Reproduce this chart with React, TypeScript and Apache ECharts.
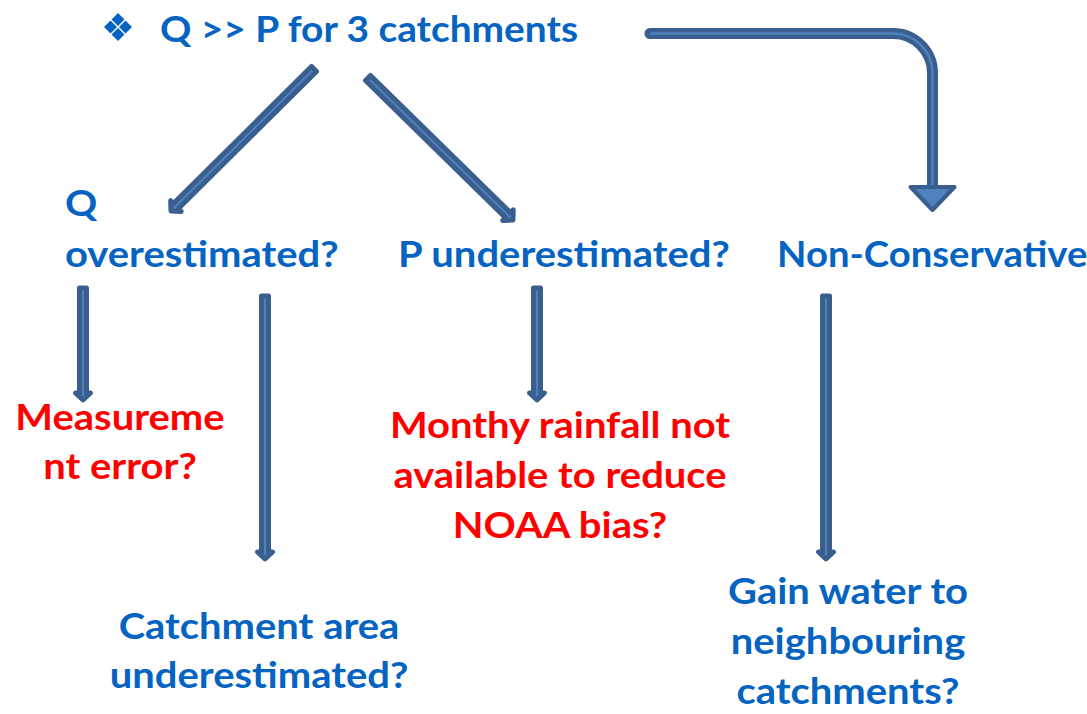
import React, { useEffect, useRef } from "react";
import * as echarts from "echarts";

// ---- content ----
const titleText = "Q >> P for 3 catchments";
const branchLeftLines = ["Q", "overestimated?"];
const branchMidLines = ["P underestimated?"];
const branchRightLines = ["Non-Conservative"];
const causeMeasureLines = ["Measureme", "nt error?"];
const causeRainLines = ["Monthy rainfall not", "available to reduce", "NOAA bias?"];
const causeAreaLines = ["Catchment area", "underestimated?"];
const causeGainLines = ["Gain water to", "neighbouring", "catchments?"];

// ---- styles ----
const BLUE = "#0563C1";
const RED = "#FF0000";
const DARK = "#3A5F8E";
const LIGHT = "#4F81BD";
const FONT = "Lato";
const FS = 37;
const SX = 1.08;

function arrowPolygon(x1: number, y1: number, x2: number, y2: number, sw: number, hw: number, hl: number) {
  const dx = x2 - x1, dy = y2 - y1;
  const len = Math.sqrt(dx * dx + dy * dy);
  const ux = dx / len, uy = dy / len;
  const px = -uy, py = ux;
  const bx = x2 - ux * hl, by = y2 - uy * hl;
  return [
    [x1 + px * sw, y1 + py * sw],
    [bx + px * sw, by + py * sw],
    [bx + px * hw, by + py * hw],
    [x2, y2],
    [bx - px * hw, by - py * hw],
    [bx - px * sw, by - py * sw],
    [x1 - px * sw, y1 - py * sw],
  ];
}

function thinArrow(x1: number, y1: number, x2: number, y2: number) {
  return {
    type: "polygon",
    shape: { points: arrowPolygon(x1, y1, x2, y2, 3.5, 7.5, 7) },
    style: { fill: LIGHT, stroke: DARK, lineWidth: 5, lineJoin: "round" },
    silent: true,
  };
}

function textLines(lines: string[], x: number, baseline0: number, step: number, color: string, align: string, sx = SX) {
  return lines.map((t, i) => ({
    type: "text",
    x,
    y: baseline0 + i * step - FS * 0.36,
    scaleX: sx,
    style: {
      text: t,
      fill: color,
      font: `bold ${FS}px ${FONT}`,
      align,
      verticalAlign: "middle",
    },
    silent: true,
  }));
}

export default function App() {
  const ref = useRef<HTMLDivElement>(null);
  useEffect(() => {
    if (!ref.current) return;
    const chart = echarts.init(ref.current, null, { renderer: "svg" });
    const d = 6.5;
    const diamond = (cx: number, cy: number) => ({
      type: "polygon",
      shape: { points: [[cx, cy - d], [cx + d, cy], [cx, cy + d], [cx - d, cy]] },
      style: { fill: BLUE },
      silent: true,
    });
    const bentCommon = (w: number, c: string, cap: string) => [
      { type: "line", shape: { x1: 650, y1: 33.5, x2: 893, y2: 33.5 }, style: { stroke: c, lineWidth: w, lineCap: cap } },
      { type: "arc", shape: { cx: 893, cy: 73, r: 39.5, startAngle: -Math.PI / 2, endAngle: 0, clockwise: true }, style: { stroke: c, lineWidth: w, fill: "none" } },
      { type: "line", shape: { x1: 932.5, y1: 73, x2: 932.5, y2: 190 }, style: { stroke: c, lineWidth: w, lineCap: cap } },
    ];
    const graphic: any[] = [
      { type: "rect", shape: { x: 0, y: 0, width: 1087, height: 714 }, style: { fill: "#ffffff" }, silent: true },
      diamond(118, 19.5), diamond(110.5, 27), diamond(125.5, 27), diamond(118, 34.5),
      ...textLines([titleText], 160, 41, 0, BLUE, "left", 1.05),
      // diagonal arrows
      thinArrow(314, 69, 171, 211),
      thinArrow(368, 78, 513, 220),
      // bent arrow
      ...bentCommon(11, DARK, "round"),
      ...bentCommon(2.5, LIGHT, "butt"),
      {
        type: "polygon",
        shape: { points: [[910.5, 187], [954.5, 187], [932.5, 210]] },
        style: { fill: LIGHT, stroke: DARK, lineWidth: 4, lineJoin: "round" },
        silent: true,
      },
      // vertical arrows
      thinArrow(83, 288, 83, 400),
      thinArrow(265, 296, 265, 559),
      thinArrow(537, 288, 537, 400),
      thinArrow(826, 296, 826, 559),
      // branch labels
      ...textLines(branchLeftLines, 65, 215, 51, BLUE, "left"),
      ...textLines(branchMidLines, 398, 266, 0, BLUE, "left"),
      ...textLines(branchRightLines, 777, 266, 0, BLUE, "left", 1.035),
      // causes
      ...textLines(causeMeasureLines, 120, 429, 49, RED, "center"),
      ...textLines(causeRainLines, 560, 437, 50, RED, "center"),
      ...textLines(causeAreaLines, 259, 638, 49, BLUE, "center"),
      ...textLines(causeGainLines, 848, 603, 50, BLUE, "center"),
    ];
    chart.setOption({ animation: false, graphic });
    return () => chart.dispose();
  }, []);
  return <div ref={ref} style={{ width: 1087, height: 714, position: "absolute", left: 0, top: 0 }} />;
}
